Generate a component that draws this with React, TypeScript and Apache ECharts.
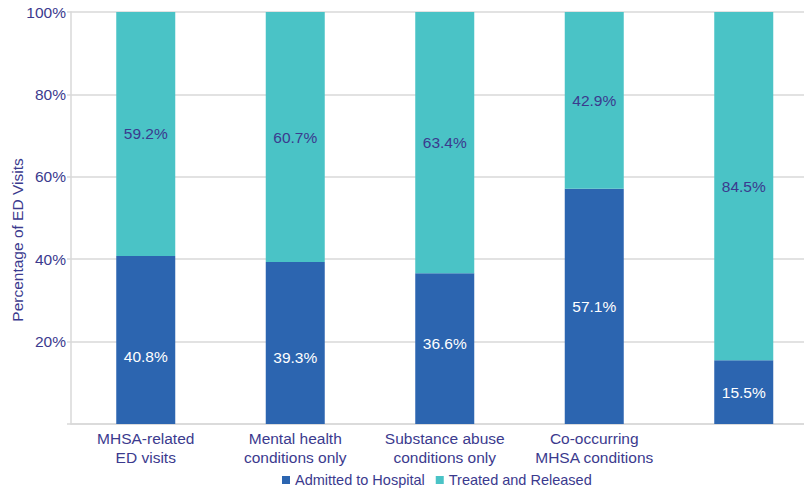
import React, { useEffect, useRef } from "react";
import * as echarts from "echarts";

const categories = [
  "MHSA-related\nED visits",
  "Mental health\nconditions only",
  "Substance abuse\nconditions only",
  "Co-occurring\nMHSA conditions",
  "",
];
const admitted = [40.8, 39.3, 36.6, 57.1, 15.5];
const treated = [59.2, 60.7, 63.4, 42.9, 84.5];
const yTicks = [0, 20, 40, 60, 80, 100];
const yAxisTitle = "Percentage of ED Visits";

// label style tweaks (offsets in px) for the admitted segment labels
const admittedLabelShift = [17, 14, -5, 0, 0];

const NAVY = "#3b3a8e";
const BLUE = "#2c65b0";
const TEAL = "#4ac3c6";
const GRID = "#d9d9d9";
const FONT = "'Liberation Sans', Arial, Helvetica, sans-serif";

export default function App() {
  const ref = useRef<HTMLDivElement>(null);
  useEffect(() => {
    if (!ref.current) return;
    const chart = echarts.init(ref.current, undefined, { renderer: "svg" });
    chart.setOption({
      animation: false,
      textStyle: { fontFamily: FONT },
      grid: {
        left: 71,
        top: 12,
        width: 747.5,
        height: 412,
        outerBoundsMode: "none",
        containLabel: false,
      },
      legend: {
        left: 282,
        top: 472.5,
        itemWidth: 8,
        itemHeight: 8,
        itemGap: 11,
        icon: "rect",
        padding: 0,
        textStyle: { color: NAVY, fontSize: 14.5, fontFamily: FONT },
        data: ["Admitted to Hospital", "Treated and Released"],
      },
      graphic: [
        {
          type: "text",
          x: 17,
          y: 240,
          rotation: Math.PI / 2,
          style: {
            text: yAxisTitle,
            fill: NAVY,
            fontSize: 15.5,
            fontFamily: FONT,
            align: "center",
            verticalAlign: "middle",
          },
        },
      ],
      xAxis: {
        type: "category",
        data: categories,
        axisLine: { lineStyle: { color: GRID, width: 1.5 } },
        axisTick: { show: false },
        axisLabel: {
          color: NAVY,
          fontSize: 15.5,
          lineHeight: 19,
          margin: 5,
          interval: 0,
          fontFamily: FONT,
        },
      },
      yAxis: {
        type: "value",
        min: yTicks[0],
        max: yTicks[yTicks.length - 1],
        interval: 20,
        axisLine: { show: true, lineStyle: { color: GRID, width: 1.5 } },
        axisTick: { show: true, length: 4, lineStyle: { color: GRID, width: 1.5 } },
        splitLine: { lineStyle: { color: GRID, width: 1.5 } },
        axisLabel: {
          color: NAVY,
          fontSize: 15.5,
          margin: 5,
          fontFamily: FONT,
          formatter: (v: number) => (v === 0 ? "" : v + "%"),
        },
      },
      series: [
        {
          name: "Admitted to Hospital",
          type: "bar",
          stack: "total",
          barWidth: 59,
          itemStyle: { color: BLUE },
          data: admitted.map((v, i) => ({
            value: v,
            label: { offset: [0, admittedLabelShift[i]] },
          })),
          label: {
            show: true,
            position: "inside",
            color: "#ffffff",
            fontSize: 15.5,
            fontFamily: FONT,
            formatter: (p: any) => p.value.toFixed(1) + "%",
          },
        },
        {
          name: "Treated and Released",
          type: "bar",
          stack: "total",
          barWidth: 59,
          itemStyle: { color: TEAL },
          data: treated,
          label: {
            show: true,
            position: "inside",
            color: NAVY,
            fontSize: 15.5,
            fontFamily: FONT,
            formatter: (p: any) => p.value.toFixed(1) + "%",
          },
        },
      ],
    });
    return () => chart.dispose();
  }, []);
  return <div ref={ref} style={{ width: 804, height: 490, position: "absolute", left: 0, top: 0 }} />;
}
